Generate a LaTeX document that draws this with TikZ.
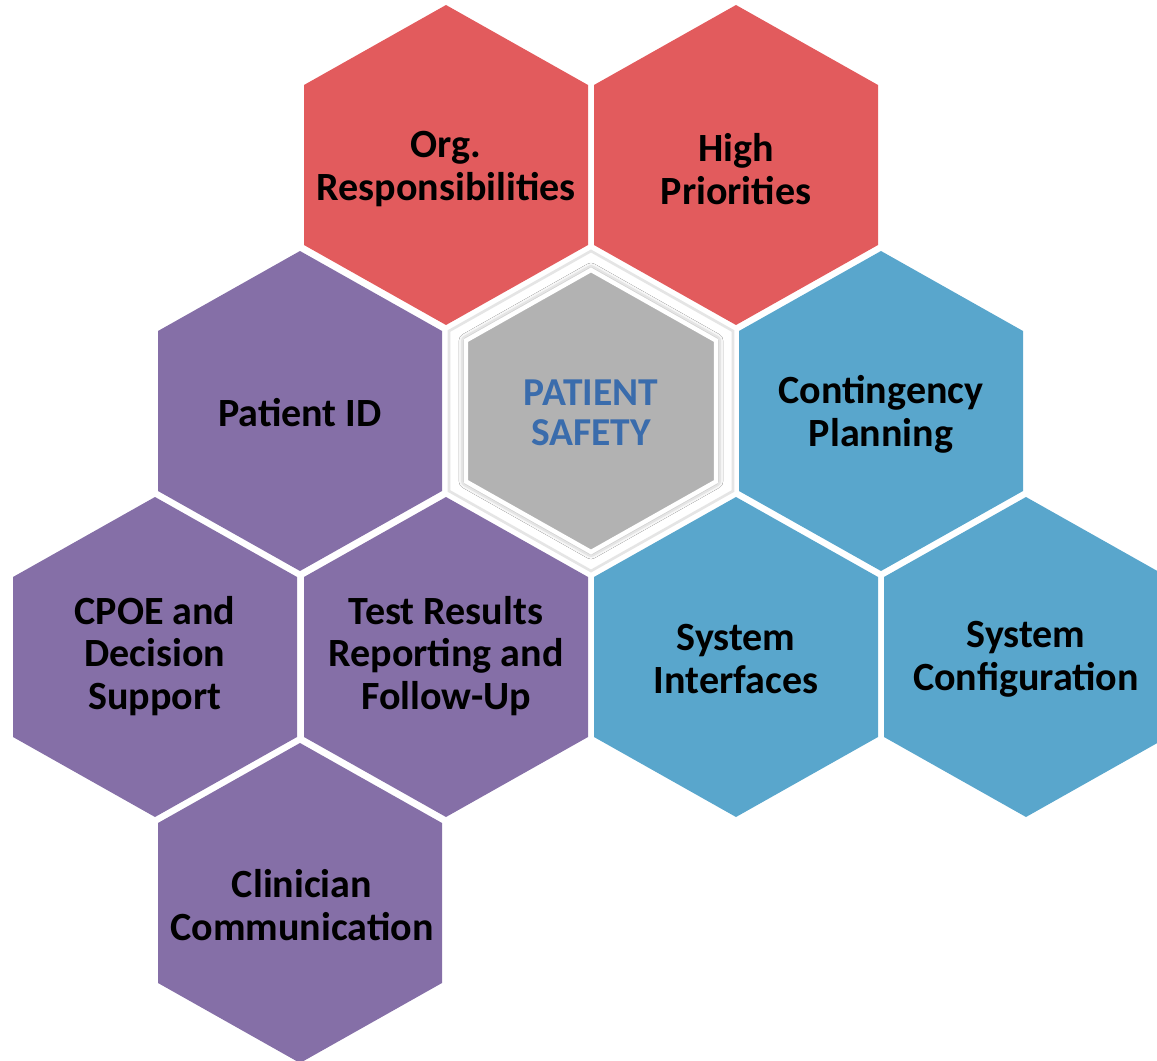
\documentclass[tikz,border=0pt]{standalone}
\usepackage{fontspec}
\setmainfont{Carlito}
\usepackage{xcolor}
\usetikzlibrary{shadows.blur}
\definecolor{cellred}{RGB}{226,91,93}
\definecolor{cellpurple}{RGB}{133,111,167}
\definecolor{cellblue}{RGB}{89,166,204}
\definecolor{coregray}{RGB}{178,178,178}
\definecolor{coreblue}{RGB}{58,108,172}
\tikzset{
	cell/.style={
			insert path={+(0,-160) -- +(142,-80) -- +(142,80) -- +(0,160) -- +(-142,80) -- +(-142,-80) -- cycle}
		},
	corecell/.style={
			insert path={+(0,-141) -- +(125,-70.5) -- +(125,70.5) -- +(0,141) -- +(-125,70.5) -- +(-125,-70.5) -- cycle}
		}
}

\begin{document}
\begin{tikzpicture}[
x = 0.02cm, y = -0.02cm,
  celltext/.style = {align=center, text=black,
                     font=\bfseries\fontsize{22.8}{24.4}\selectfont},
  coretext/.style = {align=center, text=coreblue,
                     font=\bfseries\fontsize{22.5}{23}\selectfont}
                    ]
\useasboundingbox (0,0) rectangle (1157,1061);

% red row
\fill[cellred]    (446,165) [cell];
\fill[cellred]    (736,165) [cell];
% middle row
\fill[cellpurple] (300,411) [cell];
\fill[white, draw=black!10, line width=1.5pt] (591,411) [cell];
\filldraw[coregray, draw=white, line width=2.5pt,
          blur shadow={shadow xshift=0pt, shadow yshift=0pt,
                       shadow blur radius=4pt, shadow opacity=55}]
                  (591,411) [corecell];
\fill[cellblue]   (881,411) [cell];
% third row
\fill[cellpurple] (155,657) [cell];
\fill[cellpurple] (446,657) [cell];
\fill[cellblue]   (736,657) [cell];
\fill[cellblue]   (1026,657) [cell];
% last row
\fill[cellpurple] (300,903) [cell];

\node[celltext] (org)   at (446,169) {Org.\\Responsibilities};
\node[celltext] (high)  at (736,169) {High\\Priorities};
\node[celltext] (pid)   at (300,413) {Patient ID};
\node[coretext] (core)  at (591,413) {PATIENT\\SAFETY};
\node[celltext] (plan)  at (881,414) {Contingency\\Planning};
\node[celltext] (cpoe)  at (155,656) {CPOE and\\Decision\\Support};
\node[celltext] (test)  at (446,656) {Test Results\\Reporting and\\Follow-Up};
\node[celltext] (iface) at (736,659) {System\\Interfaces};
\node[celltext] (conf)  at (1026,659) {System\\Configuration};
\node[celltext] (comm)  at (302,905) {Clinician\\Communication};
\end{tikzpicture}
\end{document}
